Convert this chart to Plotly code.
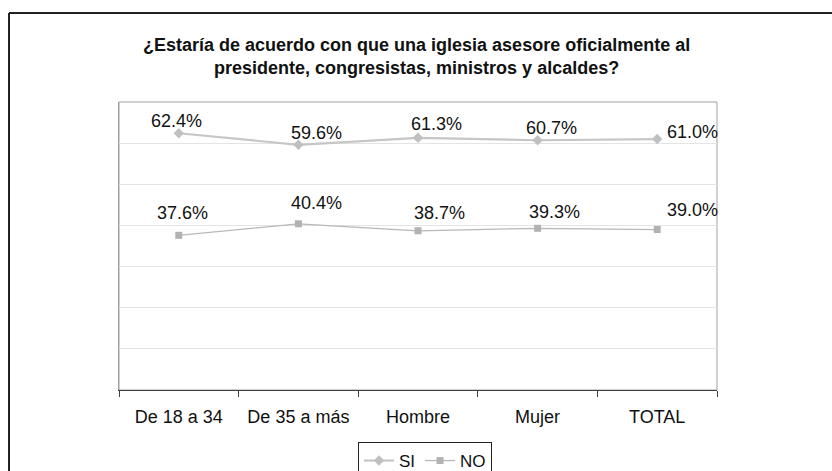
import plotly.graph_objects as go

categories = ["De 18 a 34", "De 35 a más", "Hombre", "Mujer", "TOTAL"]
si_values = [0.624, 0.596, 0.613, 0.607, 0.610]
no_values = [0.376, 0.404, 0.387, 0.393, 0.390]
si_labels = ["62.4%", "59.6%", "61.3%", "60.7%", "61.0%"]
no_labels = ["37.6%", "40.4%", "38.7%", "39.3%", "39.0%"]

# label offsets (pixels) relative to their points
si_xshift = [-2, 18, 18, 14, 35]
si_yshift = [12, 12, 14, 12, 7]
no_xshift = [4, 18, 21, 17, 35]
no_yshift = [22, 21, 18, 16, 20]

FONT = "Liberation Sans, Arial, sans-serif"
W, H = 832, 471
L, R, T, B = 119, 717, 102, 390


def px_x(px):
    return (px - L) / (R - L)


def px_y(py):
    return (B - py) / (B - T)


fig = go.Figure()
fig.add_trace(go.Scatter(
    x=categories, y=si_values, name="SI", mode="lines+markers",
    line=dict(color="#c6c6c6", width=2.2),
    marker=dict(symbol="diamond", size=8, color="#c0c0c0"),
))
fig.add_trace(go.Scatter(
    x=categories, y=no_values, name="NO", mode="lines+markers",
    line=dict(color="#b8b8b8", width=1.3),
    marker=dict(symbol="square", size=7, color="#b2b2b2"),
))

annotations = []
for c, v, t, dx, dy in zip(categories, si_values, si_labels, si_xshift, si_yshift):
    annotations.append(dict(x=c, y=v, xref="x", yref="y", text=t, showarrow=False,
                            xshift=dx, yshift=dy, font=dict(family=FONT, size=18, color="#111111")))
for c, v, t, dx, dy in zip(categories, no_values, no_labels, no_xshift, no_yshift):
    annotations.append(dict(x=c, y=v, xref="x", yref="y", text=t, showarrow=False,
                            xshift=dx, yshift=dy, font=dict(family=FONT, size=18, color="#111111")))

annotations.append(dict(
    x=px_x(416), y=px_y(56.5), xref="paper", yref="paper", showarrow=False,
    xanchor="center", yanchor="middle",
    text="<b>¿Estaría de acuerdo con que una iglesia asesore oficialmente al<br>presidente, congresistas, ministros y alcaldes?</b>",
    font=dict(family=FONT, size=18, color="#111111"),
))

shapes = [
    # plot area frame
    dict(type="rect", xref="paper", yref="paper", x0=0, y0=0, x1=1, y1=1,
         line=dict(color="#a0a0a0", width=1), layer="below"),
    # outer chart border (top and left visible)
    dict(type="line", xref="paper", yref="paper", x0=px_x(9), y0=px_y(13), x1=px_x(850), y1=px_y(13),
         line=dict(color="#222222", width=2)),
    dict(type="line", xref="paper", yref="paper", x0=px_x(9), y0=px_y(13), x1=px_x(9), y1=px_y(490),
         line=dict(color="#222222", width=2)),
]

fig.update_layout(
    width=W, height=H,
    margin=dict(l=L, r=W - R, t=T, b=H - B, pad=0, autoexpand=False),
    paper_bgcolor="white", plot_bgcolor="white",
    font=dict(family=FONT, size=18, color="#111111"),
    showlegend=True,
    legend=dict(orientation="h", x=px_x(358), y=px_y(442), xanchor="left", yanchor="top",
                bordercolor="#222222", borderwidth=1, font=dict(family=FONT, size=17),
                itemwidth=30, tracegroupgap=0),
    annotations=annotations,
    shapes=shapes,
)
fig.update_xaxes(
    type="category", range=[-0.5, 4.5], showgrid=False,
    showline=True, linecolor="#404040", linewidth=1,
    ticks="outside", tickson="boundaries", ticklen=6, tickcolor="#404040",
    tickfont=dict(family=FONT, size=18, color="#111111"),
    ticklabelstandoff=10,
)
fig.update_yaxes(
    range=[0, 0.7], dtick=0.1, showgrid=True, gridcolor="#e4e4e4", gridwidth=1,
    showticklabels=False, zeroline=False, showline=True, linecolor="#a0a0a0",
)

fig.write_html("out.html", config={"displayModeBar": False},
               post_script="document.body.style.margin='0';")
